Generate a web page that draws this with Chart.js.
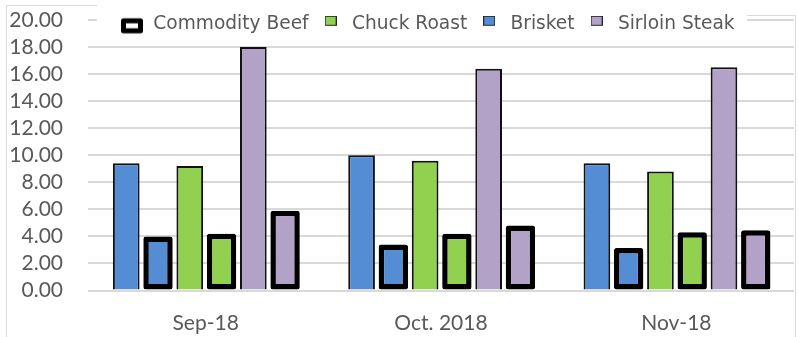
<!DOCTYPE html>
<html>
<head>
<meta charset="utf-8">
<title>Beef prices</title>
<script src="https://cdn.jsdelivr.net/npm/chart.js@4/dist/chart.umd.min.js"></script>
<style>
  html, body { margin: 0; padding: 0; background: #ffffff; }
  #wrap { position: relative; width: 799px; height: 337px; }
</style>
</head>
<body>
<div id="wrap"><canvas id="beefChart"></canvas></div>
<script>
// Months on the category axis
const months = ['Sep-18', 'Oct. 2018', 'Nov-18'];

// Retail cut prices
const brisket = [9.4, 10.0, 9.4];
const chuckRoast = [9.2, 9.6, 8.8];
const sirloinSteak = [18.0, 16.4, 16.5];

// Commodity beef prices for the same cuts
const brisketCommodity = [4.0, 3.4, 3.15];
const chuckCommodity = [4.2, 4.2, 4.3];
const sirloinCommodity = [5.9, 4.8, 4.45];

// Legend entries and value axis labels
const legendNames = ['Commodity Beef', 'Chuck Roast', 'Brisket', 'Sirloin Steak'];
const yTickLabels = ['0.00', '2.00', '4.00', '6.00', '8.00', '10.00', '12.00', '14.00', '16.00', '18.00', '20.00'];

const BLUE = '#548DD4';
const GREEN = '#92D050';
const PURPLE = '#B3A2C7';
const TEXT = '#595959';
const GRID = '#d9d9d9';

function retailSet(label, data, color) {
  return {
    label, data,
    backgroundColor: color,
    borderColor: '#111111',
    borderWidth: 2,
    borderSkipped: 'start',
    barPercentage: 0.84,
    categoryPercentage: 0.81
  };
}
function commoditySet(label, data, color) {
  return {
    label, data,
    backgroundColor: color,
    borderColor: '#000000',
    borderWidth: 5.5,
    borderSkipped: false,
    borderRadius: 2.5,
    barPercentage: 0.925,
    categoryPercentage: 0.81
  };
}

// Small swatches used as legend markers
function swatch(w, h, draw) {
  const c = document.createElement('canvas');
  c.width = w; c.height = h;
  draw(c.getContext('2d'));
  return c;
}
const commoditySwatch = swatch(24, 24, (g) => {
  g.fillStyle = '#ffffff';
  g.strokeStyle = '#000000';
  g.lineWidth = 5;
  g.lineJoin = 'round';
  g.beginPath();
  g.rect(3.5, 9, 17, 10);
  g.fill();
  g.stroke();
});
function plainSwatch(color) {
  return swatch(12, 16, (g) => {
    g.fillStyle = color;
    g.fillRect(0, 0, 12, 10);
    g.strokeStyle = '#262626';
    g.lineWidth = 1;
    g.strokeRect(0.5, 0.5, 11, 9);
  });
}
const legendSwatches = [commoditySwatch, plainSwatch(GREEN), plainSwatch(BLUE), plainSwatch(PURPLE)];

// Legend sits over the top of the plot with a white backing;
// the outer frame is drawn as thin grey lines.
const layoutTweaks = {
  id: 'layoutTweaks',
  beforeLayout(chart) {
    const lg = chart.legend;
    if (lg && !lg._tweaked) {
      lg._tweaked = true;
      const origFit = lg.fit.bind(lg);
      lg.fit = function () { origFit(); this.height = 15.5; };
      lg.draw = function () {
        if (!this.options.display) return;
        const ctx = chart.ctx;
        ctx.save();
        ctx.fillStyle = '#ffffff';
        ctx.fillRect(97, 0, 650, 33);
        const first = this.legendHitBoxes && this.legendHitBoxes[0];
        const dx = first ? 120 - first.left : 0;
        ctx.translate(dx, 0);
        this._draw();
        ctx.restore();
      };
    }
  },
  beforeDraw(chart) {
    const ctx = chart.ctx;
    ctx.save();
    ctx.strokeStyle = GRID;
    ctx.lineWidth = 1;
    ctx.beginPath();
    ctx.moveTo(6.5, 337); ctx.lineTo(6.5, 5.5); ctx.lineTo(97, 5.5);
    ctx.moveTo(747, 15.5); ctx.lineTo(795.5, 15.5); ctx.lineTo(795.5, 337);
    ctx.stroke();
    ctx.restore();
  }
};

function build() {
  new Chart(document.getElementById('beefChart'), {
    type: 'bar',
    data: {
      labels: months,
      datasets: [
        retailSet('Brisket', brisket, BLUE),
        commoditySet('Commodity Beef', brisketCommodity, BLUE),
        retailSet('Chuck Roast', chuckRoast, GREEN),
        commoditySet('Commodity Beef', chuckCommodity, GREEN),
        retailSet('Sirloin Steak', sirloinSteak, PURPLE),
        commoditySet('Commodity Beef', sirloinCommodity, PURPLE)
      ]
    },
    options: {
      responsive: true,
      maintainAspectRatio: false,
      animation: false,
      layout: { padding: { top: 4.5, right: 5, left: 0, bottom: 0 } },
      plugins: {
        tooltip: { enabled: false },
        legend: {
          position: 'top',
          onClick: null,
          labels: {
            usePointStyle: true,
            pointStyleWidth: 24,
            padding: 10,
            color: TEXT,
            font: { family: 'DejaVu Sans', size: 18.6 },
            generateLabels: () => legendNames.map((name, i) => ({
              text: name,
              pointStyle: legendSwatches[i],
              fontColor: TEXT,
              hidden: false,
              lineWidth: 0,
              datasetIndex: i
            }))
          }
        }
      },
      scales: {
        x: {
          grid: { display: false },
          border: { display: false },
          ticks: { color: TEXT, font: { family: 'Lato', size: 21 }, padding: 12 },
          afterFit(scale) { scale.height = 46.5; }
        },
        y: {
          min: 0,
          max: 20,
          ticks: {
            stepSize: 2,
            autoSkip: false,
            padding: 0,
            color: TEXT,
            font: { family: 'Lato', size: 21 },
            callback: (v, i) => yTickLabels[i]
          },
          grid: { color: GRID, lineWidth: 2, drawTicks: true, tickLength: 25, tickColor: 'rgba(0,0,0,0)' },
          border: { display: false },
          afterFit(scale) { scale.width = 88; }
        }
      }
    },
    plugins: [layoutTweaks]
  });
}

Promise.all([
  document.fonts.load('21px Lato'),
  document.fonts.load('18px "DejaVu Sans"')
]).then(build, build);
</script>
</body>
</html>
